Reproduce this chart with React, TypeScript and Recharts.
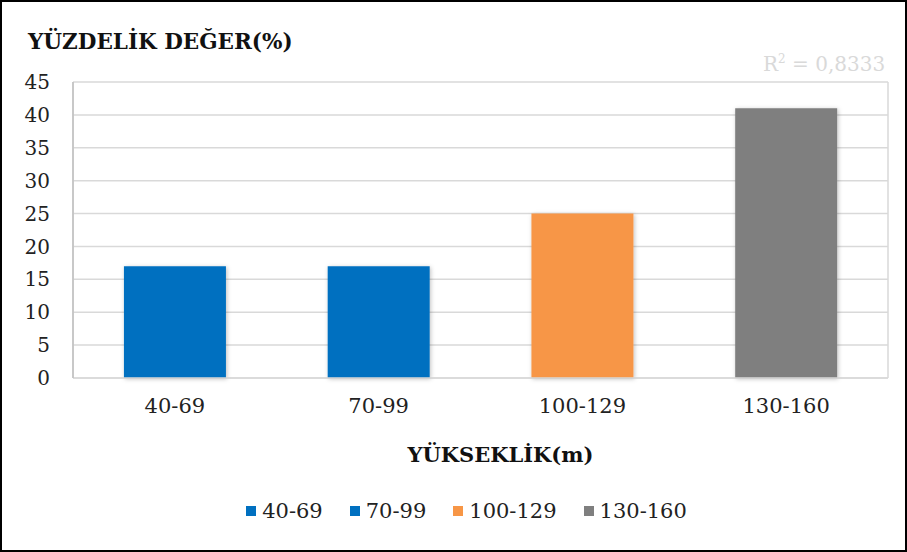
import React from 'react';
import {Bar, BarChart, CartesianGrid, Cell, Label, Legend, XAxis, YAxis} from 'recharts';

const categories = ['40-69', '70-99', '100-129', '130-160'];
const values = [17, 17, 25, 41];
const colors = ['#0070C0', '#0070C0', '#F79646', '#7F7F7F'];
const yTicks = [0, 5, 10, 15, 20, 25, 30, 35, 40, 45];

const data = categories.map((name, i) => ({name, value: values[i]}));

const font = '"DejaVu Serif", serif';

const LegendContent = () => (
    <div style={{display: 'flex', justifyContent: 'center', gap: 27, fontFamily: font, fontSize: 21, color: '#222', height: 26, alignItems: 'center', paddingLeft: 26}}>
        {categories.map((c, i) => (
            <div key={c} style={{display: 'flex', alignItems: 'center', gap: 6}}>
                <span style={{width: 10, height: 10, background: colors[i], display: 'inline-block'}} />
                <span>{c}</span>
            </div>
        ))}
    </div>
);

const App = () => {
    return (
        <div style={{position: 'absolute', left: 0, top: 0, width: 907, height: 552, border: '2px solid #000', boxSizing: 'border-box', background: '#fff'}}>
            <div style={{position: 'absolute', left: 26, top: 27, fontFamily: font, fontWeight: 'bold', fontSize: 21.5, color: '#111'}}>
                YÜZDELİK DEĞER(%)
            </div>
            <div style={{position: 'absolute', left: 761, top: 50, fontFamily: font, fontSize: 20, color: '#D9D9D9'}}>
                R<sup style={{fontSize: 12}}>2</sup> = 0,8333
            </div>
            <BarChart
                width={903}
                height={548}
                data={data}
                margin={{top: 80, right: 17, left: 0, bottom: 46}}
                barCategoryGap='25%'
            >
                <defs>
                    <filter id='sh' x='-10%' y='-10%' width='130%' height='130%'>
                        <feDropShadow dx='1' dy='1' stdDeviation='2' floodColor='#000' floodOpacity='0.25' />
                    </filter>
                </defs>
                <CartesianGrid stroke='#D9D9D9' strokeWidth={1.5} verticalPoints={[71, 886]} />
                <XAxis
                    dataKey='name'
                    height={100}
                    tickLine={false}
                    axisLine={{stroke: '#D9D9D9', strokeWidth: 1.5}}
                    tick={{fill: '#222', fontSize: 21, fontFamily: font}}
                    tickMargin={14}
                >
                    <Label
                        value='YÜKSEKLİK(m)'
                        position='insideBottom'
                        offset={16}
                        dx={20}
                        style={{fill: '#111', fontSize: 21, fontWeight: 'bold', fontFamily: font}}
                    />
                </XAxis>
                <YAxis
                    width={71}
                    domain={[0, 45]}
                    ticks={yTicks}
                    interval={0}
                    tickLine={false}
                    axisLine={{stroke: '#BFBFBF', strokeWidth: 1.5}}
                    tick={{fill: '#222', fontSize: 20, fontFamily: font}}
                    tickMargin={17}
                />
                <Legend content={LegendContent} wrapperStyle={{top: 496, bottom: 'auto', left: 0, width: 903}} />
                <Bar dataKey='value' isAnimationActive={false}>
                    {data.map((d, i) => (
                        <Cell key={d.name} fill={colors[i]} filter='url(#sh)' />
                    ))}
                </Bar>
            </BarChart>
        </div>
    );
};

export default App;
